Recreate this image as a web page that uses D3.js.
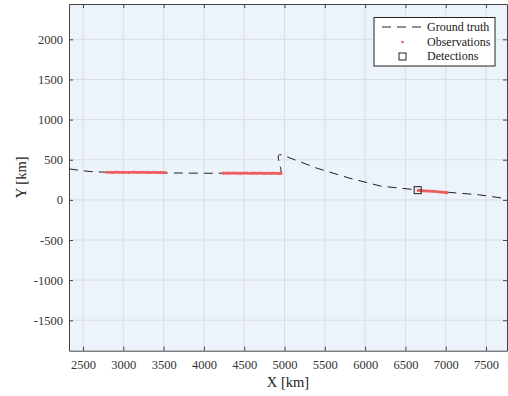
<!DOCTYPE html>
<html>
<head>
<meta charset="utf-8">
<script src="https://cdn.jsdelivr.net/npm/d3@7"></script>
<style>
  body { margin: 0; background: #fff; }
  svg { display: block; }
  svg text { font-family: "Liberation Serif", "Times New Roman", serif; }
</style>
</head>
<body>
<svg id="chart" width="508" height="396"></svg>
<script>
// ground truth trajectory [km]
const truthX = [2326, 2450, 2600, 2800, 3200, 3600, 4000, 4400, 4800, 4957, 4955, 4935, 4922, 4922, 4940, 4990, 5400, 5800, 6200, 6640, 7010, 7420, 7760];
const truthY = [386, 368, 352, 344, 340, 335, 332, 331, 331, 330, 380, 460, 520, 550, 565, 552, 395, 272, 170, 125, 96, 62, 14];

// observations (three tracks)
const obs1X = [2800, 2830, 2860, 2890, 2920, 2950, 2980, 3010, 3040, 3070, 3100, 3130, 3160, 3190, 3220, 3250, 3280, 3310, 3340, 3370, 3400, 3430, 3460, 3490, 3520];
const obs1Y = [343, 344, 342, 343, 345, 343, 342, 344, 343, 342, 344, 345, 343, 342, 343, 344, 342, 343, 341, 343, 342, 341, 342, 340, 341];
const obs2X = [4240, 4270, 4300, 4330, 4360, 4390, 4420, 4450, 4480, 4510, 4540, 4570, 4600, 4630, 4660, 4690, 4720, 4750, 4780, 4810, 4840, 4870, 4900, 4930, 4955];
const obs2Y = [333, 334, 332, 333, 334, 332, 333, 331, 333, 334, 332, 331, 333, 332, 331, 333, 332, 330, 332, 331, 330, 332, 331, 330, 331];
const obs3X = [6660, 6690, 6720, 6750, 6780, 6810, 6840, 6870, 6900, 6930, 6960, 6990, 7015];
const obs3Y = [117, 115, 113, 112, 110, 108, 106, 104, 101, 99, 96, 93, 90];

// detections
const detX = [6652];
const detY = [121];

const xTicks = [2500, 3000, 3500, 4000, 4500, 5000, 5500, 6000, 6500, 7000, 7500];
const yTicks = [-1500, -1000, -500, 0, 500, 1000, 1500, 2000];

const padL = 69, padR = 507, padT = 4, padB = 350.7;
const serif = "'Liberation Serif', 'Times New Roman', serif";

const svg = d3.select("#chart");

const x = d3.scaleLinear().domain([2326, 7760]).range([padL, padR]);
const y = d3.scaleLinear().domain([-1879, 2440]).range([padB, padT]);

// background
svg.append("rect")
  .attr("x", padL).attr("y", padT)
  .attr("width", padR - padL).attr("height", padB - padT)
  .attr("fill", "#ecf3fa");

// grid
const grid = svg.append("g").attr("stroke", "#dadde0").attr("stroke-width", 1);
grid.selectAll(".gx").data(xTicks).enter().append("line")
  .attr("x1", d => x(d)).attr("x2", d => x(d))
  .attr("y1", padT).attr("y2", padB);
grid.selectAll(".gy").data(yTicks).enter().append("line")
  .attr("x1", padL).attr("x2", padR)
  .attr("y1", d => y(d)).attr("y2", d => y(d));

// axes (ticks inward)
const axisColor = "#444";
const styleAxis = g => {
  g.attr("font-family", serif).attr("font-size", 12.5);
  g.select(".domain").attr("stroke", axisColor);
  g.selectAll(".tick line").attr("stroke", axisColor);
  g.selectAll(".tick text").attr("fill", "#333");
};

svg.append("g")
  .attr("transform", `translate(0,${padB})`)
  .call(d3.axisBottom(x).tickValues(xTicks).tickSize(-4).tickSizeOuter(0).tickPadding(9).tickFormat(d3.format("d")))
  .call(styleAxis);

svg.append("g")
  .attr("transform", `translate(0,${padT})`)
  .call(d3.axisTop(x).tickValues(xTicks).tickSize(-4).tickSizeOuter(0).tickFormat(""))
  .call(styleAxis);

svg.append("g")
  .attr("transform", `translate(${padL},0)`)
  .call(d3.axisLeft(y).tickValues(yTicks).tickSize(-4).tickSizeOuter(0).tickPadding(6).tickFormat(d => String(d)))
  .call(styleAxis);

svg.append("g")
  .attr("transform", `translate(${padR},0)`)
  .call(d3.axisRight(y).tickValues(yTicks).tickSize(-4).tickSizeOuter(0).tickFormat(""))
  .call(styleAxis);

// ground truth
const truth = truthX.map((d, i) => [d, truthY[i]]);
svg.append("path")
  .datum(truth)
  .attr("fill", "none")
  .attr("stroke", "#222")
  .attr("stroke-width", 1)
  .attr("stroke-dasharray", "9,6")
  .attr("d", d3.line().x(d => x(d[0])).y(d => y(d[1])));

// observations
const obs = [];
[[obs1X, obs1Y], [obs2X, obs2Y], [obs3X, obs3Y]].forEach(([xs, ys]) => {
  xs.forEach((d, i) => obs.push([d, ys[i]]));
});
svg.append("g").selectAll("circle")
  .data(obs).enter().append("circle")
  .attr("cx", d => x(d[0])).attr("cy", d => y(d[1]))
  .attr("r", 1.6)
  .attr("fill", "#f05a5c");

// detections
svg.append("g").selectAll("rect")
  .data(detX.map((d, i) => [d, detY[i]])).enter().append("rect")
  .attr("x", d => x(d[0]) - 3.5).attr("y", d => y(d[1]) - 3.5)
  .attr("width", 7).attr("height", 7)
  .attr("fill", "none").attr("stroke", "#222").attr("stroke-width", 1);

// axis labels
svg.append("text")
  .attr("x", (padL + padR) / 2).attr("y", 387)
  .attr("text-anchor", "middle")
  .attr("font-size", 14.5).attr("fill", "#222")
  .text("X [km]");

svg.append("text")
  .attr("transform", `translate(26,${(padT + padB) / 2}) rotate(-90)`)
  .attr("text-anchor", "middle")
  .attr("font-size", 14.5).attr("fill", "#222")
  .text("Y [km]");

// legend
const legend = svg.append("g");
legend.append("rect")
  .attr("x", 374).attr("y", 17.5).attr("width", 121).attr("height", 48.5)
  .attr("fill", "#fff").attr("stroke", "#222").attr("stroke-width", 1);
legend.append("line")
  .attr("x1", 382).attr("x2", 424).attr("y1", 27).attr("y2", 27)
  .attr("stroke", "#222").attr("stroke-dasharray", "9,6");
legend.append("circle")
  .attr("cx", 402.5).attr("cy", 42).attr("r", 1.3).attr("fill", "#f05a5c");
legend.append("rect")
  .attr("x", 399).attr("y", 53).attr("width", 7).attr("height", 7)
  .attr("fill", "none").attr("stroke", "#222");
const labels = ["Ground truth", "Observations", "Detections"];
legend.selectAll("text").data(labels).enter().append("text")
  .attr("x", 427).attr("y", (d, i) => 31 + i * 14.5)
  .attr("font-size", 12).attr("fill", "#222")
  .text(d => d);
</script>
</body>
</html>
